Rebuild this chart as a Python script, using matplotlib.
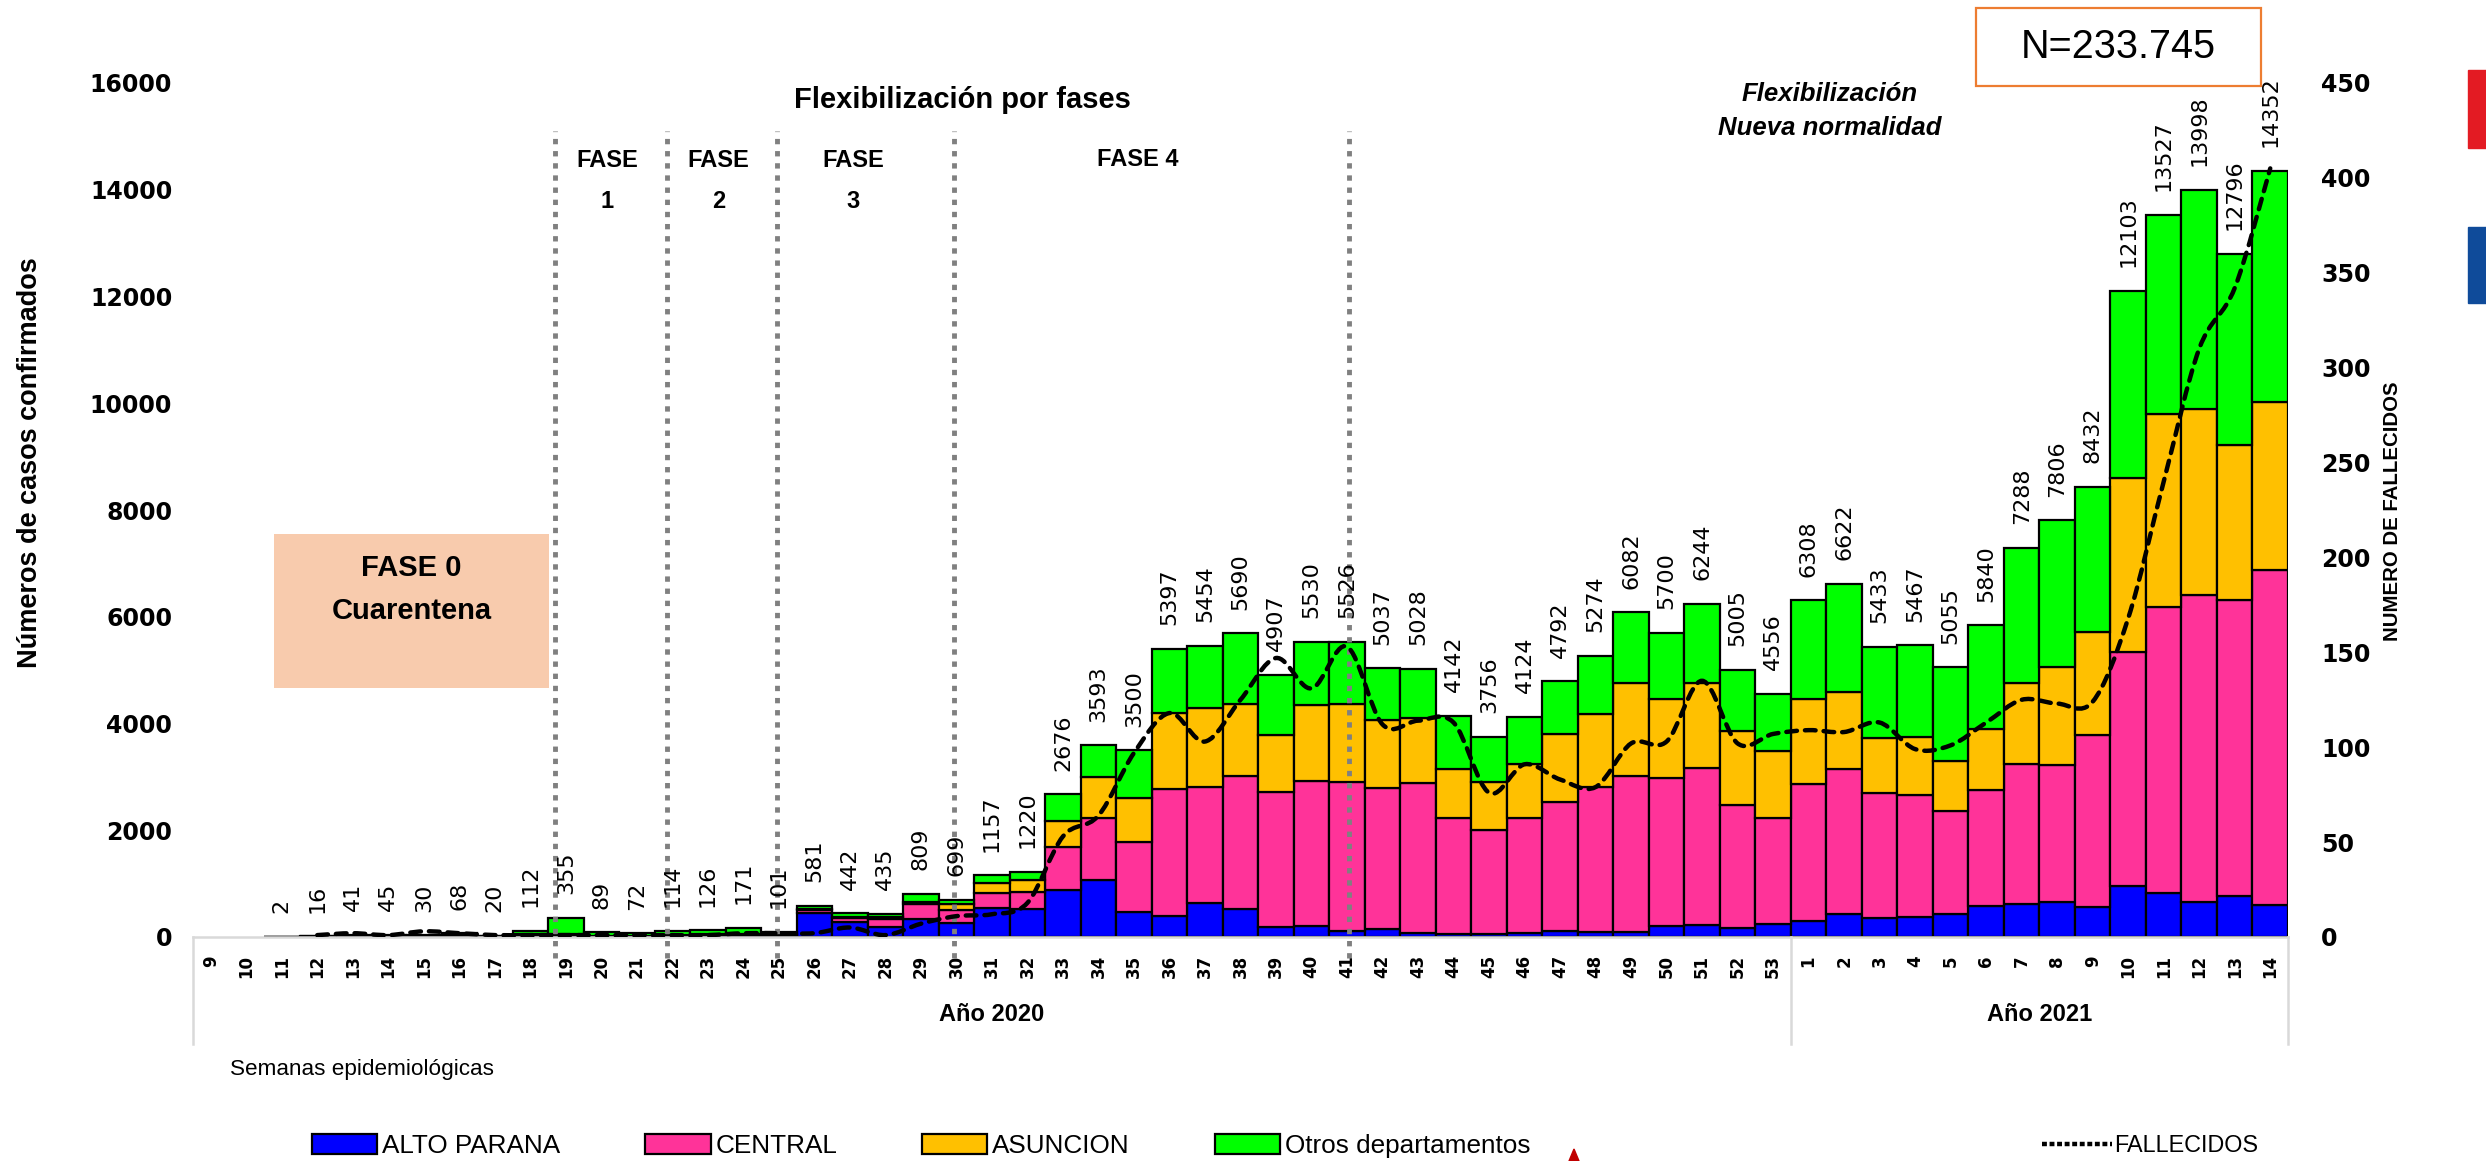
import numpy as np
import matplotlib
matplotlib.use('Agg')
from matplotlib import pyplot as plt
from matplotlib.path import Path
from matplotlib.patches import PathPatch, Rectangle, Polygon
from matplotlib.lines import Line2D

# semanas epidemiologicas 2020 (9-53) y 2021 (1-14)
semanas = [str(w) for w in range(9, 54)] + [str(w) for w in range(1, 15)]

totales = [0, 0, 2, 16, 41, 45, 30, 68, 20, 112,
           355, 89, 72, 114, 126, 171, 101,
           581, 442, 435, 809, 699,
           1157, 1220, 2676, 3593, 3500,
           5397, 5454, 5690, 4907, 5530,
           5526, 5037, 5028, 4142, 3756,
           4124, 4792, 5274, 6082, 5700,
           6244, 5005, 4556,
           6308, 6622, 5433, 5467, 5055, 5840, 7288, 7806, 8432,
           12103, 13527, 13998, 12796, 14352]

alto_parana = [0, 0, 0, 0, 0, 0, 0, 2, 0, 5,
               30, 5, 5, 10, 10, 15, 20,
               450, 290, 190, 330, 260,
               540, 520, 880, 1060, 470,
               390, 630, 520, 190, 200,
               120, 150, 80, 55, 50,
               80, 115, 100, 100, 205,
               220, 170, 240,
               305, 425, 360, 380, 430, 585, 615, 650, 555,
               953, 816, 648, 766, 598]

central = [0, 0, 0, 4, 10, 10, 8, 20, 6, 25,
           20, 10, 10, 20, 20, 25, 20,
           60, 70, 140, 290, 245,
           285, 320, 800, 1165, 1310,
           2375, 2175, 2490, 2520, 2730,
           2780, 2640, 2800, 2170, 1950,
           2150, 2410, 2710, 2910, 2765,
           2940, 2310, 1985,
           2555, 2715, 2335, 2285, 1930, 2175, 2620, 2565, 3230,
           4385, 5370, 5763, 5555, 6270]

asuncion = [0, 0, 1, 6, 15, 15, 10, 26, 8, 20,
            10, 8, 10, 15, 20, 25, 15,
            10, 20, 40, 45, 112,
            190, 235, 490, 770, 830,
            1440, 1490, 1360, 1080, 1420,
            1470, 1280, 1230, 915, 900,
            1020, 1280, 1360, 1745, 1485,
            1595, 1385, 1260,
            1590, 1445, 1030, 1080, 935, 1130, 1520, 1850, 1925,
            3263, 3615, 3482, 2893, 3150]

fallecidos = [None, None, None, 1, 2, 1, 3, 2, 1, 1,
              1, 1, 1, 1, 1, 2, 2,
              2, 5, 1, 7, 11,
              12, 18, 53, 64, 97,
              118, 103, 125, 147, 131,
              153, 112, 114, 113, 76,
              91, 83, 79, 102, 103,
              135, 102, 107,
              109, 108, 113, 99, 101, 113, 125, 123, 124,
              168, 240, 310, 342, 405]

# otros departamentos = resto del total
otros = [t - a - c - s for t, a, c, s in zip(totales, alto_parana, central, asuncion)]

# lineas de fases (posicion en semanas)
fases_x = [9.7, 12.85, 15.95, 20.93, 32.05]

FONT = 'Liberation Sans'
W, H = 2486, 1161
fx = lambda px: px / W
fy = lambda py: 1 - py / H

fig = plt.figure(figsize=(W / 100, H / 100), dpi=100)
ax = fig.add_axes([fx(193), fy(937), fx(2288) - fx(193), fy(83) - fy(937)])
ax2 = ax.twinx()

x = np.arange(len(semanas))
mask = np.array(totales) > 0
bottom = np.zeros(mask.sum())
series = [(alto_parana, '#0000FF', 'ALTO PARANA'),
          (central, '#FF3399', 'CENTRAL'),
          (asuncion, '#FFC000', 'ASUNCION'),
          (otros, '#00FF00', 'Otros departamentos')]
barras = []
for vals, color, name in series:
    v = np.array(vals, dtype=float)[mask]
    bc = ax.bar(x[mask], v, width=1.0, bottom=bottom, color=color,
                edgecolor='black', linewidth=1.6, label=name, zorder=2)
    bottom += v
    barras.append(bc)

for i, t in enumerate(totales):
    if t > 0:
        ax.annotate(str(t), (i, t), xytext=(0, 17), textcoords='offset points',
                    rotation=90, ha='center', va='bottom', fontsize=16,
                    family='DejaVu Sans', zorder=4)

ax.set_xlim(-0.5, len(semanas) - 0.5)
ax.set_ylim(0, 16000)
ax.set_yticks(range(0, 16001, 2000))
ax.set_xticks(x)
ax.set_xticklabels(semanas, rotation=90, fontweight='bold', fontsize=12)
ax.tick_params(axis='x', length=0, pad=13)
ax.tick_params(axis='y', length=0, pad=15, labelsize=17)
for lab in ax.get_yticklabels():
    lab.set_fontweight('bold')

ax2.set_ylim(0, 450)
ax2.set_yticks(range(0, 451, 50))
ax2.tick_params(axis='y', length=0, pad=24, labelsize=17)
for lab in ax2.get_yticklabels():
    lab.set_fontweight('bold')

for a in (ax, ax2):
    for s in ('top', 'left', 'right'):
        a.spines[s].set_visible(False)
ax2.spines['bottom'].set_visible(False)
ax.spines['bottom'].set_color('#d9d9d9')
ax.spines['bottom'].set_linewidth(1.8)

# tabla de categorias
xt = ax.get_xaxis_transform()
for xv in (-0.5, 44.5, len(semanas) - 0.5):
    ax.plot([xv, xv], [0, -0.125], transform=xt, clip_on=False,
            color='#d9d9d9', lw=1.8)
ax.text(22, -0.091, 'Año 2020', transform=xt, ha='center', va='center',
        fontsize=17, fontweight='bold', family=FONT)
ax.text(51.5, -0.091, 'Año 2021', transform=xt, ha='center', va='center',
        fontsize=17, fontweight='bold', family=FONT)

# fases
ax.vlines(fases_x, -390, 15100, colors='#808080', lw=3.5,
          linestyles=(0, (1.1, 1.4)), zorder=3, clip_on=False)
ax.add_patch(Rectangle((1.78, 4665), 7.75, 2885, facecolor='#F8CBAD',
                       edgecolor='none', zorder=1))
ax.text(5.65, 6913, 'FASE 0', ha='center', va='center', fontsize=21,
        fontweight='bold', family=FONT, zorder=3)
ax.text(5.65, 6100, 'Cuarentena', ha='center', va='center', fontsize=21,
        fontweight='bold', family=FONT, zorder=3)

for xc, txt in [(11.17, 'FASE\n1'), (14.3, 'FASE\n2'), (18.1, 'FASE\n3')]:
    fig.text(fx(193 + (xc + 0.5) * 35.51), fy(181), txt, ha='center',
             va='center', fontsize=17, fontweight='bold', family=FONT,
             linespacing=2.0)
fig.text(fx(1138), fy(160), 'FASE 4', ha='center', va='center',
         fontsize=17, fontweight='bold', family=FONT)
fig.text(fx(962), fy(100), 'Flexibilización por fases', ha='center',
         va='center', fontsize=21, fontweight='bold', family=FONT)
fig.text(fx(1830), fy(111), 'Flexibilización\nNueva normalidad',
         ha='center', va='center', fontsize=18.5, fontweight='bold',
         style='italic', family=FONT, linespacing=1.5)

fig.text(fx(2118), fy(47), 'N=233.745', ha='center', va='center',
         fontsize=28.5, family=FONT)
fig.patches.append(Rectangle((fx(1976), fy(86)), fx(2261) - fx(1976),
                             fy(8) - fy(86), transform=fig.transFigure,
                             facecolor='none', edgecolor='#ED7D31', lw=1.6))

# linea de fallecidos suavizada
idx = [i for i, v in enumerate(fallecidos) if v is not None]
pts = np.array([[i, fallecidos[i]] for i in idx], dtype=float)
verts, codes = [pts[0]], [Path.MOVETO]
for i in range(len(pts) - 1):
    p0 = pts[i - 1] if i > 0 else pts[i]
    p3 = pts[i + 2] if i + 2 < len(pts) else pts[i + 1]
    verts += [pts[i] + (pts[i + 1] - p0) / 6, pts[i + 1] - (p3 - pts[i]) / 6,
              pts[i + 1]]
    codes += [Path.CURVE4] * 3
ax2.add_patch(PathPatch(Path(verts, codes), fill=False, edgecolor='black',
                        lw=3.2, linestyle=(0, (2.4, 1.8)), capstyle='round',
                        zorder=5))

# etiquetas de ejes
fig.text(fx(30), fy(463), 'Números de casos confirmados', rotation=90,
         ha='center', va='center', fontsize=19.5, fontweight='bold',
         family=FONT)
fig.text(fx(2393), fy(511), 'NUMERO DE FALLECIDOS', rotation=90,
         ha='center', va='center', fontsize=14.7, fontweight='bold',
         family=FONT)
fig.text(fx(230), fy(1070), 'Semanas epidemiológicas', ha='left',
         va='center', fontsize=16.2, family=FONT)

# leyendas
fig.legend(barras, [b.get_label() for b in barras], loc='center left',
           bbox_to_anchor=(fx(312), fy(1146)), ncol=4, frameon=False,
           borderpad=0, borderaxespad=0, handlelength=2.5,
           handleheight=0.8, handletextpad=0.18, columnspacing=3.26,
           prop={'family': FONT, 'size': 18.8})
line_h = Line2D([], [], color='black', lw=3.2, linestyle=(0, (1.1, 0.6)))
fig.legend([line_h], ['FALLECIDOS'], loc='center left',
           bbox_to_anchor=(fx(2042), fy(1146)), frameon=False, borderpad=0,
           borderaxespad=0, handlelength=3.0, handletextpad=0.1,
           prop={'family': FONT, 'size': 16.8})

# detalles decorativos (bandera y triangulo)
fig.patches.append(Rectangle((fx(2468), fy(148)), fx(18), fy(70) - fy(148),
                             transform=fig.transFigure, color='#E31B23'))
fig.patches.append(Rectangle((fx(2468), fy(303)), fx(18), fy(227) - fy(303),
                             transform=fig.transFigure, color='#0F4B9A'))
fig.patches.append(Polygon([(fx(1569), fy(1161)), (fx(1579), fy(1161)),
                            (fx(1574), fy(1149))], closed=True,
                           transform=fig.transFigure, color='#C00000'))

fig.savefig('out.png', dpi=100)
